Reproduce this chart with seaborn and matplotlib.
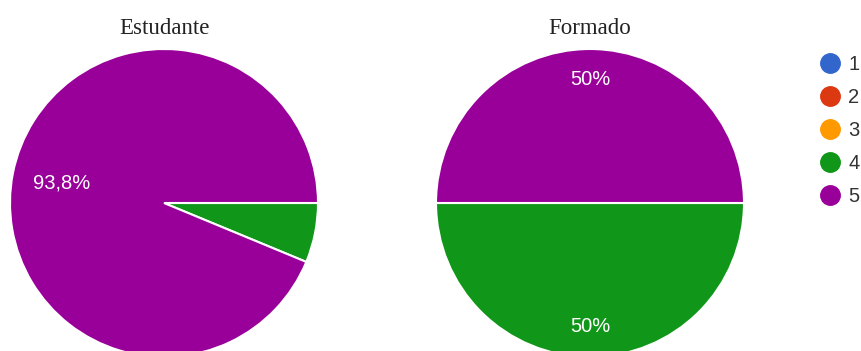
import matplotlib
matplotlib.use('Agg')
import matplotlib.pyplot as plt
import seaborn as sns
from matplotlib.lines import Line2D

categories = ['1', '2', '3', '4', '5']
colors = ['#3366cc', '#dc3912', '#ff9900', '#109618', '#990099']
estudante = [0, 0, 0, 1, 15]
formado = [0, 0, 0, 1, 1]
titles = ['Estudante', 'Formado']

sns.set_theme(style='white')
plt.rcParams['font.family'] = ['Liberation Sans', 'DejaVu Sans']

W, H = 861, 351
fig = plt.figure(figsize=(W / 100, H / 100), dpi=100)
R = 154


def fmt(p):
    if p < 10:
        return ''
    s = f'{p:.1f}'
    if s.endswith('.0'):
        s = s[:-2]
    return s.replace('.', ',') + '%'


def add_pie(cx, cy, values, title, pctdist):
    ax = fig.add_axes([(cx - R) / W, (H - cy - R) / H, 2 * R / W, 2 * R / H])
    vals = [v for v in values if v > 0]
    cols = [c for v, c in zip(values, colors) if v > 0]
    ax.pie(vals, colors=cols, startangle=0, counterclock=False, autopct=fmt,
           pctdistance=pctdist,
           wedgeprops=dict(edgecolor='white', linewidth=1.5),
           textprops=dict(color='white', fontsize=14.5))
    ax.set_xlim(-1, 1)
    ax.set_ylim(-1, 1)
    fig.text(cx / W, 1 - 28 / H, title, ha='center', va='center',
             family=['Liberation Serif', 'DejaVu Serif'], fontsize=16.5, color='#222222')


add_pie(164, 203, estudante, titles[0], 0.68)
add_pie(590, 203, formado, titles[1], 0.80)

handles = [Line2D([0], [0], marker='o', linestyle='', markersize=14,
                  markerfacecolor=c, markeredgecolor=c) for c in colors]
fig.legend(handles, categories, loc='upper left', bbox_to_anchor=(820 / W, 1 - 55 / H),
           frameon=False, handlelength=1.0, handletextpad=0.4, labelspacing=0.7,
           borderpad=0, borderaxespad=0, fontsize=14.5, labelcolor='#333333')

fig.savefig('out.png', dpi=100, facecolor='white')
